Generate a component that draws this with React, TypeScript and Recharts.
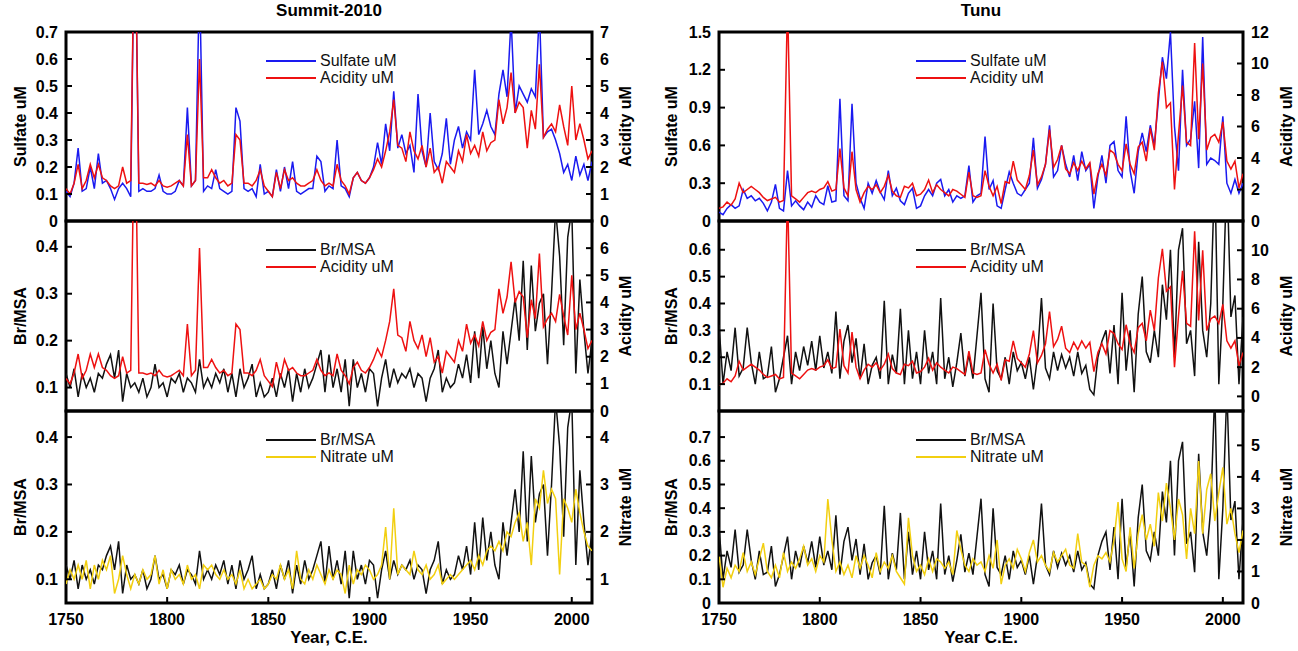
import { LineChart, Line, XAxis, YAxis, ReferenceArea, Legend } from "recharts"

// two-year sampling of the annual records, 1750-2010
const YEARS = [
  1750, 1752, 1754, 1756, 1758, 1760, 1762, 1764, 1766, 1768,
  1770, 1772, 1774, 1776, 1778, 1780, 1782, 1784, 1786, 1788,
  1790, 1792, 1794, 1796, 1798, 1800, 1802, 1804, 1806, 1808,
  1810, 1812, 1814, 1816, 1818, 1820, 1822, 1824, 1826, 1828,
  1830, 1832, 1834, 1836, 1838, 1840, 1842, 1844, 1846, 1848,
  1850, 1852, 1854, 1856, 1858, 1860, 1862, 1864, 1866, 1868,
  1870, 1872, 1874, 1876, 1878, 1880, 1882, 1884, 1886, 1888,
  1890, 1892, 1894, 1896, 1898, 1900, 1902, 1904, 1906, 1908,
  1910, 1912, 1914, 1916, 1918, 1920, 1922, 1924, 1926, 1928,
  1930, 1932, 1934, 1936, 1938, 1940, 1942, 1944, 1946, 1948,
  1950, 1952, 1954, 1956, 1958, 1960, 1962, 1964, 1966, 1968,
  1970, 1972, 1974, 1976, 1978, 1980, 1982, 1984, 1986, 1988,
  1990, 1992, 1994, 1996, 1998, 2000, 2002, 2004, 2006, 2008,
  2010
]

const YEAR_TICKS = [1750, 1800, 1850, 1900, 1950, 2000]

// Summit-2010
const SUMMIT_SULFATE = [
  0.11, 0.09, 0.14, 0.27, 0.11, 0.12, 0.20, 0.12, 0.25, 0.14,
  0.15, 0.12, 0.08, 0.12, 0.14, 0.12, 0.09, 1.2, 0.11, 0.12,
  0.11, 0.11, 0.12, 0.17, 0.11, 0.10, 0.10, 0.11, 0.15, 0.13,
  0.42, 0.13, 0.15, 0.9, 0.11, 0.13, 0.12, 0.19, 0.12, 0.11,
  0.10, 0.11, 0.42, 0.37, 0.12, 0.11, 0.12, 0.09, 0.21, 0.10,
  0.11, 0.09, 0.19, 0.11, 0.20, 0.12, 0.22, 0.11, 0.10, 0.11,
  0.12, 0.12, 0.24, 0.22, 0.11, 0.13, 0.12, 0.30, 0.13, 0.12,
  0.09, 0.16, 0.18, 0.15, 0.14, 0.16, 0.20, 0.29, 0.21, 0.36,
  0.26, 0.48, 0.27, 0.32, 0.25, 0.28, 0.18, 0.47, 0.26, 0.20,
  0.40, 0.22, 0.19, 0.25, 0.38, 0.21, 0.30, 0.35, 0.27, 0.33,
  0.30, 0.56, 0.32, 0.36, 0.41, 0.35, 0.32, 0.47, 0.56, 0.46,
  0.75, 0.40, 0.50, 0.47, 0.44, 0.49, 0.46, 0.78, 0.31, 0.33,
  0.34, 0.30, 0.25, 0.18, 0.21, 0.15, 0.24, 0.17, 0.21, 0.15,
  0.22
]

const SUMMIT_ACIDITY = [
  1.2, 1.0, 1.4, 2.1, 1.2, 1.5, 2.1, 1.6, 2.1, 1.6,
  1.5, 1.3, 1.2, 1.3, 2.0, 1.4, 1.5, 12, 1.4, 1.4,
  1.35, 1.4, 1.3, 1.5, 1.3, 1.25, 1.3, 1.4, 1.5, 1.3,
  3.2, 1.3, 1.5, 6.0, 1.6, 1.6, 1.9, 1.6, 1.4, 1.5,
  1.3, 1.4, 3.2, 3.0, 1.4, 1.4, 1.3, 1.5, 1.9, 1.3,
  1.1, 0.9, 1.8, 1.2, 1.9, 1.5, 1.6, 1.4, 1.3, 1.3,
  1.4, 1.5, 1.9, 1.5, 1.3, 1.4, 1.3, 2.1, 1.5, 1.3,
  1.0, 1.6, 1.8, 1.5, 1.4, 1.6, 1.9, 2.3, 2.0, 2.6,
  3.3, 4.5, 2.8, 2.7, 2.2, 3.3, 2.6, 2.3, 2.8, 2.0,
  2.7, 1.8, 2.0, 1.4, 2.2, 2.0, 1.8, 2.6, 2.2, 3.2,
  2.5, 2.8, 2.4, 3.3, 2.6, 2.9, 3.0, 4.5, 3.6, 4.2,
  5.5, 4.0, 4.4, 4.2, 2.7, 4.1, 3.4, 5.8, 3.1, 3.4,
  3.6, 3.3, 4.3, 3.5, 2.8, 5.0, 3.0, 3.6, 3.0, 2.3,
  2.6
]

const SUMMIT_BRMSA = [
  0.13, 0.10, 0.14, 0.08, 0.13, 0.10, 0.12, 0.09, 0.13, 0.12,
  0.15, 0.17, 0.12, 0.18, 0.07, 0.13, 0.10, 0.11, 0.09, 0.12,
  0.08, 0.10, 0.15, 0.10, 0.11, 0.08, 0.12, 0.11, 0.13, 0.09,
  0.12, 0.11, 0.09, 0.16, 0.10, 0.12, 0.10, 0.13, 0.11, 0.14,
  0.09, 0.13, 0.08, 0.14, 0.10, 0.12, 0.15, 0.08, 0.11, 0.08,
  0.09, 0.12, 0.08, 0.13, 0.10, 0.14, 0.07, 0.13, 0.09, 0.14,
  0.10, 0.12, 0.15, 0.18, 0.09, 0.17, 0.10, 0.14, 0.09, 0.16,
  0.06, 0.16, 0.10, 0.13, 0.09, 0.14, 0.13, 0.06, 0.12, 0.16,
  0.10, 0.14, 0.11, 0.13, 0.12, 0.14, 0.10, 0.13, 0.12, 0.07,
  0.12, 0.14, 0.18, 0.09, 0.12, 0.10, 0.11, 0.15, 0.12, 0.17,
  0.11, 0.22, 0.12, 0.23, 0.14, 0.20, 0.13, 0.10, 0.22, 0.15,
  0.22, 0.29, 0.20, 0.37, 0.18, 0.36, 0.22, 0.28, 0.30, 0.15,
  0.30, 0.48, 0.38, 0.19, 0.42, 0.48, 0.13, 0.33, 0.22, 0.13,
  0.20
]

const SUMMIT_NITRATE = [
  0.9, 1.2, 1.0, 1.3, 1.0, 1.4, 0.8, 1.3, 1.0, 1.4,
  1.2, 1.5, 0.7, 1.0, 1.5, 1.1, 0.8, 1.1, 0.9, 1.2,
  1.0, 1.1, 1.5, 0.9, 1.2, 0.8, 1.2, 1.0, 1.1, 0.9,
  1.3, 1.0, 1.1, 0.8, 1.3, 1.2, 1.3, 1.1, 1.0, 1.2,
  1.0, 1.1, 0.9, 1.2, 0.8, 1.0, 0.8, 0.9, 1.0, 0.8,
  0.9, 1.1, 1.0, 1.3, 1.0, 1.2, 0.8, 1.6, 1.0, 0.9,
  1.2, 1.0, 1.3, 1.1, 0.9, 1.2, 1.0, 1.2, 1.1, 0.7,
  1.3, 0.9, 1.2, 1.1, 1.3, 1.2, 1.0, 1.1, 1.3, 2.1,
  1.0, 2.5, 1.1, 1.3, 1.2, 1.1, 1.6, 1.2, 1.1, 1.3,
  1.0, 1.1, 1.3, 0.9, 1.0, 1.1, 1.0, 1.1, 1.2, 1.3,
  1.4, 1.2, 1.5, 1.3, 1.6, 1.7, 1.6, 1.8, 1.6, 2.0,
  1.9, 2.2, 2.4, 1.8, 2.2, 1.3, 2.7, 2.5, 3.3, 2.6,
  2.9, 2.7, 1.1, 2.7, 2.5, 2.2, 2.9, 2.4, 2.0, 1.7,
  1.6
]

// Tunu
const TUNU_SULFATE = [
  0.07, 0.05, 0.10, 0.13, 0.10, 0.12, 0.25, 0.18, 0.20, 0.16,
  0.18, 0.14, 0.08, 0.15, 0.29, 0.10, 0.08, 0.40, 0.12, 0.16,
  0.12, 0.09, 0.15, 0.11, 0.20, 0.15, 0.13, 0.28, 0.15, 0.16,
  0.97, 0.20, 0.16, 0.93, 0.30, 0.18, 0.10, 0.30, 0.22, 0.32,
  0.23, 0.17, 0.40, 0.20, 0.26, 0.16, 0.13, 0.22, 0.26, 0.10,
  0.12, 0.20, 0.25, 0.20, 0.30, 0.33, 0.20, 0.25, 0.15, 0.20,
  0.18, 0.20, 0.44, 0.15, 0.20, 0.22, 0.67, 0.25, 0.32, 0.12,
  0.10, 0.25, 0.39, 0.30, 0.22, 0.20, 0.25, 0.30, 0.66, 0.26,
  0.33, 0.45, 0.76, 0.35, 0.40, 0.60, 0.45, 0.35, 0.52, 0.32,
  0.55, 0.40, 0.45, 0.10, 0.35, 0.52, 0.30, 0.60, 0.63, 0.40,
  0.35, 0.83, 0.40, 0.22, 0.55, 0.70, 0.55, 0.76, 0.60, 0.95,
  1.30, 1.13, 1.50, 0.75, 0.40, 1.20, 0.60, 0.65, 0.95, 0.42,
  1.46, 0.45, 0.50, 0.48, 0.45, 0.83, 0.30, 0.22, 0.33, 0.22,
  0.30
]

const TUNU_ACIDITY = [
  0.8, 0.9, 1.2, 1.0, 1.4, 2.4, 1.8, 2.0, 2.2, 2.0,
  1.8, 1.5, 1.3, 1.4, 1.5, 1.2, 1.3, 14, 1.6, 1.4,
  1.2, 1.5, 1.8, 1.9, 1.8, 2.0, 2.1, 2.5, 1.9, 2.0,
  4.6, 2.1, 1.6, 4.4, 2.0, 1.2, 1.8, 2.2, 2.0, 2.3,
  1.8, 2.2, 2.9, 1.9, 1.6, 1.5, 2.2, 2.1, 2.4, 1.6,
  1.7, 2.0, 2.6, 1.8, 2.3, 2.0, 1.8, 1.6, 2.0, 1.9,
  1.7, 1.5, 3.1, 1.6, 1.5, 1.6, 3.2, 2.2, 1.6, 2.2,
  1.1, 2.5, 2.4, 3.8, 2.6, 2.3, 2.0, 2.9, 4.5, 2.3,
  2.8, 3.6, 5.8, 3.4, 3.9, 4.8, 3.3, 3.0, 3.7, 3.2,
  3.8, 3.3, 3.7, 1.7, 3.0, 3.6, 2.9, 4.5, 4.3, 3.6,
  3.2, 4.9, 3.6, 3.0, 4.7, 5.0, 3.8, 5.9, 4.5, 8.1,
  10.1, 7.2, 7.5, 2.0, 5.5, 8.6, 5.0, 4.8, 11.3, 5.2,
  10.0, 4.5, 5.3, 5.5, 5.0, 6.3, 3.8, 3.3, 3.8, 2.1,
  3.0
]

const TUNU_BRMSA = [
  0.32, 0.10, 0.22, 0.15, 0.31, 0.13, 0.16, 0.31, 0.18, 0.10,
  0.22, 0.12, 0.13, 0.24, 0.07, 0.12, 0.20, 0.28, 0.10, 0.22,
  0.15, 0.24, 0.17, 0.26, 0.15, 0.28, 0.16, 0.22, 0.14, 0.37,
  0.12, 0.26, 0.32, 0.18, 0.27, 0.12, 0.25, 0.10, 0.17, 0.20,
  0.12, 0.41, 0.10, 0.21, 0.14, 0.38, 0.10, 0.30, 0.12, 0.22,
  0.10, 0.30, 0.14, 0.22, 0.10, 0.42, 0.12, 0.20, 0.09, 0.18,
  0.29, 0.13, 0.21, 0.12, 0.28, 0.44, 0.12, 0.07, 0.40, 0.15,
  0.12, 0.20, 0.10, 0.22, 0.15, 0.18, 0.12, 0.20, 0.08, 0.20,
  0.42, 0.16, 0.12, 0.22, 0.15, 0.21, 0.16, 0.20, 0.13, 0.22,
  0.14, 0.17, 0.08, 0.06, 0.20, 0.26, 0.30, 0.14, 0.32, 0.10,
  0.44, 0.15, 0.30, 0.07, 0.36, 0.50, 0.22, 0.18, 0.30, 0.20,
  0.47, 0.34, 0.60, 0.20, 0.60, 0.68, 0.25, 0.30, 0.13, 0.63,
  0.30, 0.20, 0.40, 0.90, 0.10, 0.40, 0.90, 0.35, 0.43, 0.10,
  0.35
]

const TUNU_NITRATE = [
  1.5, 0.5, 1.1, 0.8, 1.2, 1.0, 1.6, 1.0, 1.3, 0.9,
  1.4, 1.9, 1.0, 0.8, 1.2, 0.8, 1.6, 1.0, 1.3, 1.1,
  1.4, 1.8, 1.2, 1.4, 1.0, 1.5, 1.3, 3.3, 2.0, 1.0,
  1.3, 0.9, 1.2, 0.8, 1.5, 1.1, 1.5, 1.2, 0.8, 1.6,
  1.0, 1.3, 1.1, 1.5, 1.0, 0.8, 0.6, 2.7, 1.5, 1.0,
  1.2, 0.9, 1.4, 1.0, 1.4, 1.3, 1.1, 1.3, 0.9, 2.3,
  1.7, 1.2, 1.0, 1.4, 1.2, 1.3, 1.0, 1.5, 1.1, 2.0,
  0.6, 1.2, 1.4, 1.1, 1.7, 1.4, 1.0, 1.6, 2.0, 1.3,
  1.5, 1.2, 1.0, 1.6, 1.3, 1.5, 1.7, 1.2, 1.1, 2.2,
  1.3, 1.2, 0.5, 1.2, 1.5, 1.4, 1.6, 1.3, 2.0, 3.2,
  1.4, 1.0, 2.4, 1.1, 2.2, 2.8, 2.0, 2.5, 1.8, 3.5,
  2.6, 3.8, 3.0, 2.0, 3.3, 2.8, 1.4, 3.0, 2.2, 4.5,
  2.2, 3.6, 4.1, 2.6, 3.5, 4.3, 2.5, 3.0, 2.2, 1.6,
  2.3
]

const summitRows = YEARS.map((year, i) => ({
  year,
  sulfate: SUMMIT_SULFATE[i],
  acidity: SUMMIT_ACIDITY[i],
  brmsa: SUMMIT_BRMSA[i],
  nitrate: SUMMIT_NITRATE[i],
}))

const tunuRows = YEARS.map((year, i) => ({
  year,
  sulfate: TUNU_SULFATE[i],
  acidity: TUNU_ACIDITY[i],
  brmsa: TUNU_BRMSA[i],
  nitrate: TUNU_NITRATE[i],
}))

const FONT = "'Liberation Sans', Arial, Helvetica, sans-serif"
const BLUE = "#1a1af0"
const RED = "#ee1111"
const BLACK = "#111111"
const YELLOW = "#f2cf10"

const labelStyle = { fontSize: 16, fontWeight: 700, fill: "#000", fontFamily: FONT }
const X_AXIS_H = 48

interface SeriesDef {
  key: string
  name: string
  color: string
  axis: "l" | "r"
}

interface AxisDef {
  domain: [number, number]
  ticks: number[]
  title: string
  titleX: number
  width: number
}

interface PanelProps {
  data: any[]
  left: number
  top: number
  width: number
  height: number
  marginTop: number
  marginBottom: number
  leftAxis: AxisDef
  rightAxis: AxisDef
  series: SeriesDef[]
  xTitle?: string
}

// ticks point into the plot, as in the original figure
function makeTick(side: "left" | "right" | "bottom", edge: number) {
  return (props: any) => {
    const { x, y, payload } = props
    const label = String(payload.value)
    if (side === "left") {
      return (
        <g>
          <line x1={edge} x2={edge + 6} y1={y} y2={y} stroke="#000" strokeWidth={2} />
          <text x={edge - 8} y={y} textAnchor="end" dominantBaseline="central" style={labelStyle}>{label}</text>
        </g>
      )
    }
    if (side === "right") {
      return (
        <g>
          <line x1={edge - 6} x2={edge} y1={y} y2={y} stroke="#000" strokeWidth={2} />
          <text x={edge + 8} y={y} textAnchor="start" dominantBaseline="central" style={labelStyle}>{label}</text>
        </g>
      )
    }
    return (
      <g>
        <line x1={x} x2={x} y1={edge - 6} y2={edge} stroke="#000" strokeWidth={2} />
        <text x={x} y={edge + 22} textAnchor="middle" style={labelStyle}>{label}</text>
      </g>
    )
  }
}

// rotated axis title centred on the axis box
function vTitle(text: string, cx: number) {
  return {
    content: (props: any) => {
      const vb = props.viewBox || {}
      const cy = (vb.y || 0) + (vb.height || 0) / 2
      return (
        <text
          x={cx}
          y={cy}
          transform={`rotate(-90 ${cx} ${cy})`}
          textAnchor="middle"
          dominantBaseline="central"
          style={{ fontSize: 16, fontWeight: 700, fontFamily: FONT, fill: "#000" }}
        >
          {text}
        </text>
      )
    },
  }
}

function hTitle(text: string) {
  return {
    content: (props: any) => {
      const vb = props.viewBox || {}
      const cx = (vb.x || 0) + (vb.width || 0) / 2
      const cy = (vb.y || 0) + 34
      return (
        <text
          x={cx}
          y={cy}
          textAnchor="middle"
          dominantBaseline="central"
          style={{ fontSize: 17, fontWeight: 700, fontFamily: FONT, fill: "#000" }}
        >
          {text}
        </text>
      )
    },
  }
}

function LegendBox({ items }: { items: SeriesDef[] }) {
  return (
    <div style={{ fontFamily: FONT, fontSize: 16, color: "#111" }}>
      {items.map((it) => (
        <div key={it.key} style={{ display: "flex", alignItems: "center", height: 17 }}>
          <svg width={50} height={4} style={{ display: "block" }}>
            <line x1={0} y1={2} x2={50} y2={2} stroke={it.color} strokeWidth={2} />
          </svg>
          <span style={{ marginLeft: 4, lineHeight: "17px" }}>{it.name}</span>
        </div>
      ))}
    </div>
  )
}

function Panel(p: PanelProps) {
  const showX = !!p.xTitle
  const plotLeft = p.leftAxis.width
  const plotRight = p.width - p.rightAxis.width
  const plotBottom = p.height - p.marginBottom - (showX ? X_AXIS_H : 0)
  return (
    <div style={{ position: "absolute", left: p.left, top: p.top }}>
      <LineChart
        width={p.width}
        height={p.height}
        data={p.data}
        margin={{ top: p.marginTop, right: 0, bottom: p.marginBottom, left: 0 }}
      >
        <XAxis
          type="number"
          dataKey="year"
          domain={[1750, 2010]}
          allowDataOverflow
          hide={!showX}
          height={showX ? X_AXIS_H : 0}
          ticks={YEAR_TICKS}
          interval={0}
          tick={makeTick("bottom", plotBottom)}
          tickLine={false}
          axisLine={false}
          label={showX ? hTitle(p.xTitle as string) : undefined}
        />
        <YAxis
          yAxisId="l"
          type="number"
          domain={p.leftAxis.domain}
          allowDataOverflow
          ticks={p.leftAxis.ticks}
          interval={0}
          width={p.leftAxis.width}
          tick={makeTick("left", plotLeft)}
          tickLine={false}
          axisLine={false}
          label={vTitle(p.leftAxis.title, p.leftAxis.titleX)}
        />
        <YAxis
          yAxisId="r"
          orientation="right"
          type="number"
          domain={p.rightAxis.domain}
          allowDataOverflow
          ticks={p.rightAxis.ticks}
          interval={0}
          width={p.rightAxis.width}
          tick={makeTick("right", plotRight)}
          tickLine={false}
          axisLine={false}
          label={vTitle(p.rightAxis.title, p.rightAxis.titleX)}
        />
        <Legend
          layout="vertical"
          verticalAlign="middle"
          align="center"
          wrapperStyle={{ left: 266, top: p.marginTop + 20, width: 220 }}
          content={() => <LegendBox items={p.series} />}
        />
        {p.series.map((s) => (
          <Line
            key={s.key}
            yAxisId={s.axis}
            type="linear"
            dataKey={s.key}
            name={s.name}
            stroke={s.color}
            strokeWidth={1.5}
            dot={false}
            activeDot={false}
            isAnimationActive={false}
          />
        ))}
        <ReferenceArea
          yAxisId="l"
          x1={1750}
          x2={2010}
          y1={p.leftAxis.domain[0]}
          y2={p.leftAxis.domain[1]}
          fill="none"
          fillOpacity={0}
          stroke="#000"
          strokeWidth={3}
          ifOverflow="visible"
        />
      </LineChart>
    </div>
  )
}

const sulfateAcid: SeriesDef[] = [
  { key: "sulfate", name: "Sulfate uM", color: BLUE, axis: "l" },
  { key: "acidity", name: "Acidity uM", color: RED, axis: "r" },
]
const brAcid: SeriesDef[] = [
  { key: "brmsa", name: "Br/MSA", color: BLACK, axis: "l" },
  { key: "acidity", name: "Acidity uM", color: RED, axis: "r" },
]
const brNitrate: SeriesDef[] = [
  { key: "brmsa", name: "Br/MSA", color: BLACK, axis: "l" },
  { key: "nitrate", name: "Nitrate uM", color: YELLOW, axis: "r" },
]

const titleStyle = {
  position: "absolute" as const,
  top: 1,
  width: 200,
  textAlign: "center" as const,
  fontFamily: FONT,
  fontSize: 17,
  fontWeight: 700,
  lineHeight: "20px",
  color: "#000",
}

export default function App() {
  // Summit column: plot x 66-592; Tunu column: plot x 719-1243
  const S = { left: 0, width: 640, lw: 66, rw: 48, lt: 20, rt: 625 }
  const T = { left: 650, width: 648, lw: 69, rw: 55, lt: 21, rt: 636 }
  return (
    <div style={{ position: "absolute", left: 0, top: 0, width: 1298, height: 651, background: "#fff", overflow: "hidden" }}>
      <div style={{ ...titleStyle, left: 229 }}>Summit-2010</div>
      <div style={{ ...titleStyle, left: 881 }}>Tunu</div>

      {/* Summit-2010 */}
      <Panel
        data={summitRows} left={S.left} top={0} width={S.width} height={250} marginTop={32} marginBottom={29}
        leftAxis={{ domain: [0, 0.7], ticks: [0, 0.1, 0.2, 0.3, 0.4, 0.5, 0.6, 0.7], title: "Sulfate uM", titleX: S.lt, width: S.lw }}
        rightAxis={{ domain: [0, 7], ticks: [0, 1, 2, 3, 4, 5, 6, 7], title: "Acidity uM", titleX: S.rt, width: S.rw }}
        series={sulfateAcid}
      />
      <Panel
        data={summitRows} left={S.left} top={200} width={S.width} height={230} marginTop={21} marginBottom={19}
        leftAxis={{ domain: [0.05, 0.455], ticks: [0.1, 0.2, 0.3, 0.4], title: "Br/MSA", titleX: S.lt, width: S.lw }}
        rightAxis={{ domain: [0, 7], ticks: [0, 1, 2, 3, 4, 5, 6], title: "Acidity uM", titleX: S.rt, width: S.rw }}
        series={brAcid}
      />
      <Panel
        data={summitRows} left={S.left} top={390} width={S.width} height={261} marginTop={21} marginBottom={0}
        leftAxis={{ domain: [0.05, 0.455], ticks: [0.1, 0.2, 0.3, 0.4], title: "Br/MSA", titleX: S.lt, width: S.lw }}
        rightAxis={{ domain: [0.5, 4.55], ticks: [1, 2, 3, 4], title: "Nitrate uM", titleX: S.rt, width: S.rw }}
        series={brNitrate}
        xTitle="Year, C.E."
      />

      {/* Tunu */}
      <Panel
        data={tunuRows} left={T.left} top={0} width={T.width} height={250} marginTop={32} marginBottom={29}
        leftAxis={{ domain: [0, 1.5], ticks: [0, 0.3, 0.6, 0.9, 1.2, 1.5], title: "Sulfate uM", titleX: T.lt, width: T.lw }}
        rightAxis={{ domain: [0, 12], ticks: [0, 2, 4, 6, 8, 10, 12], title: "Acidity uM", titleX: T.rt, width: T.rw }}
        series={sulfateAcid}
      />
      <Panel
        data={tunuRows} left={T.left} top={200} width={T.width} height={230} marginTop={21} marginBottom={19}
        leftAxis={{ domain: [0, 0.707], ticks: [0.1, 0.2, 0.3, 0.4, 0.5, 0.6], title: "Br/MSA", titleX: T.lt, width: T.lw }}
        rightAxis={{ domain: [-1, 12], ticks: [0, 2, 4, 6, 8, 10], title: "Acidity uM", titleX: T.rt, width: T.rw }}
        series={brAcid}
      />
      <Panel
        data={tunuRows} left={T.left} top={390} width={T.width} height={261} marginTop={21} marginBottom={0}
        leftAxis={{ domain: [0, 0.81], ticks: [0, 0.1, 0.2, 0.3, 0.4, 0.5, 0.6, 0.7], title: "Br/MSA", titleX: T.lt, width: T.lw }}
        rightAxis={{ domain: [0, 6.09], ticks: [0, 1, 2, 3, 4, 5], title: "Nitrate uM", titleX: T.rt, width: T.rw }}
        series={brNitrate}
        xTitle="Year C.E."
      />
    </div>
  )
}
